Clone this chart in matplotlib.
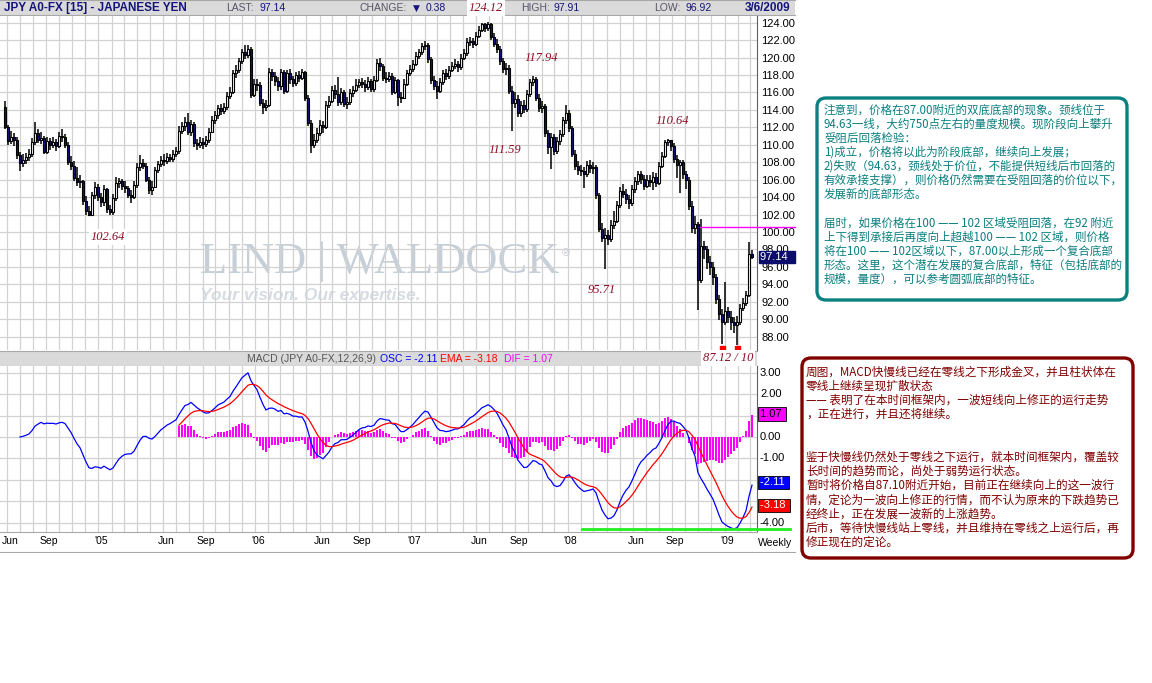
"""Weekly JPY A0-FX candlestick chart with a MACD panel and two Chinese notes."""
import pandas as pd
import matplotlib
matplotlib.use("Agg")
import matplotlib.pyplot as plt
from matplotlib import font_manager
from matplotlib.patches import Rectangle, FancyBboxPatch
from matplotlib.lines import Line2D
from matplotlib.transforms import IdentityTransform, blended_transform_factory

W, H = 1152, 683

# ---- weekly candles (first bar is the week of 28 May 2004) ----
FIRST_WEEK = "2004-05-28"
first_open = 114.3
closes = [
    112.0, 110.4, 110.9, 110.6, 108.8, 107.9, 108.3, 108.6, 108.9,
    110.3, 111.4, 110.6, 110.8, 109.2, 110.4, 110.0, 110.3, 109.9, 111.0,
    110.9, 110.0, 108.0, 107.6, 106.2, 105.7, 105.8, 103.5, 102.4, 102.0,
    104.2, 105.2, 104.0, 103.4, 104.9, 102.6, 102.3, 103.9, 105.6, 105.8,
    105.3, 105.0, 104.3, 104.0, 105.4, 107.4, 107.9, 107.6, 106.0, 104.8,
    105.2, 107.1, 107.8, 108.3, 108.1, 108.6, 108.4, 108.9, 109.3, 111.6,
    112.1, 112.6, 111.5, 112.4, 110.2, 110.0, 110.3, 110.1, 110.5, 111.5,
    112.8, 113.4, 114.2, 113.9, 114.3, 115.6, 116.0, 118.2, 118.6, 119.6,
    120.6, 120.3, 121.0, 115.7, 117.0, 116.9, 114.8, 114.3, 114.6, 118.3,
    117.9, 117.3, 116.7, 118.4, 116.2, 118.2, 117.5, 117.1, 118.0, 117.7,
    118.3, 115.4, 112.5, 110.0, 110.6, 111.4, 112.3, 112.0, 114.6, 115.0,
    116.3, 115.8, 114.9, 116.0, 114.7, 114.9, 115.9, 116.3, 116.9, 117.2,
    117.0, 116.6, 117.3, 116.4, 117.4, 119.4, 119.0, 117.7, 117.6, 117.9,
    116.1, 117.4, 115.5, 115.4, 117.0, 118.2, 118.7, 119.3, 120.2, 120.6,
    121.3, 121.5, 119.8, 117.4, 116.8, 116.2, 117.2, 118.2, 117.9, 118.6,
    119.0, 119.3, 118.9, 120.0, 120.5, 121.8, 121.9, 121.6, 122.5, 123.2,
    123.8, 123.4, 123.9, 122.4, 121.6, 121.0, 119.6, 118.7, 118.8, 116.2,
    114.8, 115.3, 113.6, 114.6, 114.1, 115.8, 117.2, 117.6, 115.4, 114.2,
    114.5, 111.3, 109.8, 110.9, 109.3, 110.4, 111.2, 112.8, 113.7, 111.9,
    109.0, 107.6, 107.1, 107.0, 106.6, 107.7, 107.3, 107.4, 104.2, 100.4,
    99.3, 99.6, 99.2, 100.8, 101.3, 103.1, 104.7, 104.4, 103.8, 103.3,
    104.9, 105.8, 106.6, 106.1, 105.3, 106.0, 105.7, 106.3, 105.6, 107.6,
    108.7, 110.3, 110.5, 109.9, 108.4, 107.7, 108.0, 106.6, 106.0, 103.0,
    100.5, 100.9, 94.5, 98.4, 98.0, 96.6, 96.0, 94.8, 92.3, 90.6,
    89.7, 90.9, 90.3, 89.7, 89.3, 89.7, 91.3, 91.9, 92.8, 97.52, 97.14,
]
highs = [
    115.0, 112.3, 111.6, 111.3, 110.9, 109.2, 108.9, 109.1, 109.5,
    110.8, 112.6, 111.8, 111.5, 111.0, 110.9, 110.8, 110.9, 110.7, 111.5,
    111.8, 111.2, 110.3, 108.7, 108.1, 107.4, 106.5, 106.0, 104.1, 103.0,
    104.6, 105.7, 105.5, 104.5, 105.4, 105.1, 103.1, 104.4, 106.3, 106.2,
    106.1, 105.8, 105.3, 104.8, 105.8, 107.9, 108.8, 108.4, 107.9, 106.3,
    105.8, 107.5, 108.2, 108.7, 108.9, 109.1, 109.0, 109.4, 109.8, 112.2,
    112.6, 113.2, 113.7, 112.9, 112.6, 110.7, 110.9, 110.8, 111.0, 111.9,
    113.3, 113.9, 114.6, 114.7, 114.8, 116.0, 116.6, 118.6, 119.1, 120.0,
    121.0, 121.4, 121.4, 121.2, 117.5, 117.6, 117.2, 115.2, 115.1, 118.8,
    118.7, 118.3, 117.8, 118.7, 118.6, 118.6, 118.7, 117.9, 118.4, 118.5,
    118.7, 118.5, 115.7, 112.8, 111.2, 111.9, 112.9, 112.7, 115.0, 115.6,
    116.8, 116.9, 117.8, 116.5, 116.3, 115.5, 116.4, 116.8, 117.5, 117.6,
    117.7, 117.4, 117.8, 117.6, 117.9, 119.8, 119.9, 119.3, 118.4, 118.4,
    118.2, 117.8, 117.6, 116.1, 117.5, 118.6, 119.2, 119.7, 120.6, 121.0,
    121.7, 121.9, 121.7, 120.1, 117.9, 117.3, 117.7, 118.6, 118.7, 119.0,
    119.5, 119.8, 119.6, 120.4, 121.0, 122.2, 122.4, 122.3, 122.9, 123.6,
    124.0, 124.0, 124.12, 124.0, 122.8, 122.1, 121.3, 120.0, 119.4, 119.1,
    116.7, 116.0, 115.7, 115.0, 115.1, 116.3, 117.6, 117.94, 117.8, 115.8,
    115.0, 114.7, 111.7, 111.4, 111.2, 110.9, 111.7, 113.2, 114.6, 114.0,
    112.2, 109.4, 108.2, 107.7, 107.5, 108.2, 108.3, 108.0, 107.7, 104.5,
    101.0, 100.5, 100.2, 101.4, 102.4, 103.6, 105.2, 105.5, 104.9, 104.3,
    105.4, 106.3, 107.0, 107.0, 106.5, 106.5, 106.5, 106.9, 106.8, 108.0,
    109.2, 110.5, 110.64, 110.6, 110.2, 108.8, 108.3, 108.3, 107.0, 106.3,
    103.5, 101.8, 101.2, 101.5, 99.0, 98.4, 97.2, 96.6, 95.2, 92.8,
    91.2, 94.3, 91.4, 90.9, 90.3, 90.4, 91.8, 92.4, 93.2, 98.8, 97.91,
]
lows = [
    111.8, 110.0, 110.1, 109.9, 108.4, 107.0, 107.4, 107.8, 108.1,
    108.6, 110.0, 110.2, 110.1, 108.9, 108.9, 109.4, 109.6, 109.3, 109.6,
    110.3, 109.6, 107.7, 107.1, 105.9, 105.3, 105.0, 103.1, 102.0, 101.85,
    101.9, 103.8, 103.6, 102.9, 103.0, 102.2, 101.9, 102.0, 103.6, 105.1,
    104.8, 104.5, 103.9, 103.3, 103.8, 105.1, 107.0, 107.2, 105.7, 104.4,
    104.2, 105.0, 106.8, 107.4, 107.6, 107.8, 108.0, 108.0, 108.6, 109.0,
    111.2, 111.6, 111.1, 111.0, 109.8, 109.4, 109.6, 109.5, 109.8, 110.2,
    111.3, 112.4, 113.0, 113.4, 113.5, 114.0, 115.3, 115.8, 117.7, 118.2,
    119.3, 119.8, 119.9, 115.4, 115.5, 116.2, 114.4, 113.5, 113.9, 114.3,
    117.3, 116.8, 116.2, 116.3, 115.8, 115.9, 117.0, 116.6, 116.8, 117.2,
    117.4, 115.0, 112.2, 109.1, 109.6, 110.2, 111.0, 111.4, 111.8, 114.2,
    114.8, 115.3, 114.5, 114.6, 114.3, 114.1, 114.6, 115.5, 116.0, 116.5,
    116.5, 116.1, 116.3, 116.0, 116.1, 117.2, 118.5, 117.3, 117.1, 117.2,
    115.7, 115.8, 114.5, 114.8, 115.2, 116.7, 117.9, 118.4, 119.0, 119.8,
    120.3, 120.9, 119.4, 117.0, 116.3, 115.3, 115.9, 116.9, 117.4, 117.6,
    118.3, 118.7, 118.4, 118.6, 119.7, 120.2, 121.3, 121.1, 121.3, 122.2,
    122.9, 122.9, 123.1, 122.0, 121.2, 120.5, 119.2, 118.2, 118.0, 115.8,
    111.6, 114.2, 113.2, 113.2, 113.6, 113.8, 115.5, 116.8, 115.0, 113.8,
    113.7, 110.9, 109.0, 107.2, 108.8, 109.0, 110.0, 110.9, 112.4, 111.5,
    108.6, 107.1, 106.5, 106.4, 105.0, 106.3, 106.8, 106.6, 103.8, 100.0,
    98.8, 95.71, 98.5, 98.9, 100.3, 101.0, 102.8, 103.9, 103.2, 102.6,
    103.0, 104.5, 105.4, 105.5, 104.8, 105.0, 105.2, 104.8, 105.2, 105.4,
    107.3, 108.5, 109.9, 109.3, 107.9, 106.2, 104.5, 106.1, 104.9, 102.5,
    99.9, 99.8, 91.0, 94.2, 96.9, 95.8, 95.1, 93.9, 91.7, 89.9,
    87.12, 89.3, 89.6, 88.8, 88.4, 87.10, 89.3, 90.9, 91.5, 92.6, 96.92,
]

# values printed in the header, the MACD title and the axis boxes
last_price, change, day_high, day_low = 97.14, 0.38, 97.91, 96.92
osc_last, ema_last, dif_last = -2.11, -3.18, 1.07
price_ticks = list(range(88, 125, 2))
macd_grid = list(range(-4, 4))
macd_labels = [3.0, 2.0, 0.0, -1.0, -4.0]
swing_text = ["124.12", "117.94", "111.59", "110.64", "102.64", "95.71", "87.12 / 10"]
lows_marked = [239, 244]          # bars flagged with red squares
neckline = 100.6                  # magenta line drawn by the author
macd_floor = -4.28                # green line drawn by the author

teal_note = [
    "注意到，价格在87.00附近的双底底部的现象。颈线位于",
    "94.63一线，大约750点左右的量度规模。现阶段向上攀升",
    "受阻后回落检验：",
    "1)成立，价格将以此为阶段底部，继续向上发展；",
    "2)失败（94.63，颈线处于价位，不能提供短线后市回落的",
    "有效承接支撑），则价格仍然需要在受阻回落的价位以下，",
    "发展新的底部形态。",
    "",
    "届时，如果价格在100 —— 102 区域受阻回落，在92 附近",
    "上下得到承接后再度向上超越100 —— 102 区域，则价格",
    "将在100 —— 102区域以下，87.00以上形成一个复合底部",
    "形态。这里，这个潜在发展的复合底部，特征（包括底部的",
    "规模，量度），可以参考圆弧底部的特征。",
]
red_note = [
    "周图，MACD快慢线已经在零线之下形成金叉，并且柱状体在",
    "零线上继续呈现扩散状态",
    "—— 表明了在本时间框架内，一波短线向上修正的运行走势",
    "，正在进行，并且还将继续。",
    "",
    "",
    "鉴于快慢线仍然处于零线之下运行，就本时间框架内，覆盖较",
    "长时间的趋势而论，尚处于弱势运行状态。",
    "暂时将价格自87.10附近开始，目前正在继续向上的这一波行",
    "情，定论为一波向上修正的行情，而不认为原来的下跌趋势已",
    "经终止，正在发展一波新的上涨趋势。",
    "后市，等待快慢线站上零线，并且维持在零线之上运行后，再",
    "修正现在的定论。",
]

NAVY = "#14147a"
GRID = "#d2d2d2"
CJK = ["Noto Sans CJK SC", "DejaVu Sans"]
SANS = ["Liberation Sans", "DejaVu Sans"]
installed = {f.name for f in font_manager.fontManager.ttflist}
if "Liberation Sans Narrow" in installed:
    NARROW, NARROW_SIZE = ["Liberation Sans Narrow", "DejaVu Sans"], 10
else:
    NARROW, NARROW_SIZE = SANS, 8.5


def rect(x0, y0, x1, y1):
    """Figure fraction box from pixel corners (y measured from the top)."""
    return [x0 / W, 1 - y1 / H, (x1 - x0) / W, (y1 - y0) / H]


def ftext(fig, x, y, s, **kw):
    """Text placed in pixels from the top-left corner."""
    kw.setdefault("va", "center")
    return fig.text(x / W, 1 - y / H, s, **kw)


def band(fig, x0, y0, x1, y1):
    """Grey title band with thin borders."""
    fig.add_artist(Rectangle((x0 / W, 1 - y1 / H), (x1 - x0) / W, (y1 - y0) / H,
                             transform=fig.transFigure, fc="#dadada", ec="none", zorder=-2))
    for y in (y0, y1):
        fig.add_artist(Line2D([x0 / W, x1 / W], [1 - y / H] * 2, transform=fig.transFigure,
                              color="#a8a8a8", lw=0.8, zorder=-1))


def month_axis(ax, dates):
    """Monthly vertical grid plus Jun / Sep / year labels."""
    months = pd.date_range("2004-06-01", "2009-03-01", freq="MS")
    pos = (months - dates[0]).days / 7
    ax.set_xticks(pos, minor=True)
    keep = [(p, m) for p, m in zip(pos, months) if m.month in (1, 6, 9)]
    labels = [f"'{m:%y}" if m.month == 1 else f"{m:%b}" for _, m in keep]
    ax.set_xticks([p + 1 for p, _ in keep])
    ax.set_xticklabels(labels, fontsize=7.5, family=NARROW)
    ax.tick_params(axis="x", which="both", length=0, pad=3)
    ax.grid(True, which="minor", axis="x", color=GRID, lw=0.9)


def plot_candles(ax, x, opens):
    """Hollow up candles, navy down candles."""
    ax.vlines(x, lows, highs, color="black", lw=1.1, zorder=2)
    bottoms = [min(o, c) for o, c in zip(opens, closes)]
    heights = [max(abs(c - o), 0.08) for o, c in zip(opens, closes)]
    colors = ["white" if c >= o else NAVY for o, c in zip(opens, closes)]
    ax.bar(x, heights, bottom=bottoms, width=0.72, color=colors,
           edgecolor="black", linewidth=0.8, zorder=3)


def main():
    n = len(closes)
    assert len(highs) == n and len(lows) == n
    x = list(range(n))
    dates = pd.date_range(FIRST_WEEK, periods=n, freq="7D")
    opens = [first_open] + closes[:-1]
    xlim = (-5 / 3, 752 / 3)

    fig = plt.figure(figsize=(W / 100, H / 100), dpi=100)
    fig.patch.set_facecolor("white")

    # ---------------- price panel ----------------
    ax = fig.add_axes(rect(0, 16, 757, 350))
    ax.set_xlim(*xlim)
    ax.set_ylim(86.47, 124.77)
    ax.set_axisbelow(True)
    plot_candles(ax, x, opens)

    ax.yaxis.tick_right()
    ax.set_yticks(price_ticks)
    ax.set_yticklabels([f"{v:.2f}" for v in price_ticks], fontsize=8, family=SANS)
    ax.tick_params(axis="y", length=0, pad=3)
    ax.grid(True, which="major", axis="y", color=GRID, lw=0.9)
    month_axis(ax, dates)
    ax.tick_params(axis="x", which="both", labelbottom=False)
    for side in ("left", "top", "bottom"):
        ax.spines[side].set_visible(False)
    ax.spines["right"].set_color("#606060")

    # watermark
    ax.text(200 / 757, (350 - 273) / 334, "LIND | WALDOCK", transform=ax.transAxes,
            fontsize=32, family=["Liberation Serif", "DejaVu Serif"], color="#c6cfd8",
            va="baseline", zorder=0.3)
    ax.text(562 / 757, (350 - 256) / 334, "®", transform=ax.transAxes, fontsize=8,
            family=SANS, color="#c6cfd8", zorder=0.3)
    ax.text(200 / 757, (350 - 300) / 334, "Your vision. Our expertise.", transform=ax.transAxes,
            fontsize=12.5, family=SANS, style="italic", fontweight="bold", color="#d6dce2",
            va="baseline", zorder=0.3)

    # swing labels
    spots = [(160.3, 125.69), (178.7, 119.95), (166.7, 109.41), (222.3, 112.73),
             (34.3, 99.43), (199.0, 93.35), (241.0, 85.56)]
    for s, (bx, by) in zip(swing_text, spots):
        boxed = s in ("124.12", "102.64", "87.12 / 10")
        ax.text(bx, by, s, ha="center", va="center", fontsize=9, style="italic",
                family=["Liberation Serif", "DejaVu Serif"], color="#8a0c22", zorder=6,
                clip_on=False,
                bbox=dict(fc="white", ec="none", pad=1.5) if boxed else None)

    ax.plot([231.7, 263.3], [neckline, neckline], color="#ff00ff", lw=1, clip_on=False, zorder=4)
    ax.plot(lows_marked, [86.75] * len(lows_marked), "s", color="#ff0000", ms=3.6,
            clip_on=False, zorder=5)

    ytrans = blended_transform_factory(ax.transAxes, ax.transData)
    ax.text(1 + 3 / 757, last_price, f"{last_price:.2f}  ", transform=ytrans, ha="left",
            va="center", fontsize=8, family=SANS, color="white", clip_on=False, zorder=6,
            bbox=dict(boxstyle="square,pad=0.1", fc="#0c0c6c", ec="#0c0c6c"))

    # ---------------- MACD panel ----------------
    axm = fig.add_axes(rect(0, 366, 757, 532))
    axm.set_xlim(*xlim)
    axm.set_ylim(-4.43, 3.31)
    axm.set_axisbelow(True)

    price = pd.Series(closes, index=x).iloc[5:]
    osc = price.ewm(span=12, adjust=False).mean() - price.ewm(span=26, adjust=False).mean()
    ema = osc.ewm(span=9, adjust=False).mean()
    dif = (osc - ema).loc[58:]
    axm.bar(dif.index, dif.values, width=0.62, color="#ff00ff", lw=0, zorder=2)
    axm.plot(osc.index, osc.values, color="#0000ff", lw=0.9, zorder=3)
    axm.plot(ema.loc[58:].index, ema.loc[58:].values, color="#ff0000", lw=0.9, zorder=3)
    axm.plot([192.2, 261.7], [macd_floor, macd_floor], color="#22ee22", lw=2,
             clip_on=False, zorder=4)

    axm.set_yticks(macd_grid)
    axm.tick_params(axis="y", length=0, labelleft=False, labelright=False)
    axm.grid(True, which="major", axis="y", color=GRID, lw=0.9)
    month_axis(axm, dates)
    for side in ("left", "top"):
        axm.spines[side].set_visible(False)
    axm.spines["right"].set_color("#606060")
    axm.spines["bottom"].set_color("#a8a8a8")

    mtrans = blended_transform_factory(axm.transAxes, axm.transData)
    for v in macd_labels:
        axm.text(1 + 3 / 757, v, f"{v:.2f}", transform=mtrans, ha="left", va="center",
                 fontsize=8, family=SANS, clip_on=False)
    for v, fc, tc in [(dif_last, "#ff00ff", "black"), (osc_last, "#0000ff", "white"),
                      (ema_last, "#ff0000", "white")]:
        axm.text(1 + 3 / 757, v, f"{v:.2f} ", transform=mtrans, ha="left", va="center",
                 fontsize=8, family=SANS, color=tc, clip_on=False, zorder=6,
                 bbox=dict(boxstyle="square,pad=0.15", fc=fc, ec="black", lw=0.6))
    ftext(fig, 758, 543, "Weekly", fontsize=7.5, family=NARROW)
    fig.add_artist(Line2D([0, 795 / W], [1 - 552 / H] * 2, transform=fig.transFigure,
                          color="#a8a8a8", lw=0.8))

    # ---------------- header and MACD title bands ----------------
    band(fig, 0, 0, 795, 15)
    ftext(fig, 4, 8, "JPY A0-FX [15] - JAPANESE YEN", fontsize=NARROW_SIZE,
          fontweight="bold", family=NARROW, color=NAVY)
    grey = "#55556a"
    for lx, label, vx, value in [(226, "LAST:", 259, f"{last_price:.2f}"),
                                 (521, "HIGH:", 553, f"{day_high:.2f}"),
                                 (654, "LOW:", 685, f"{day_low:.2f}")]:
        ftext(fig, lx, 8, label, fontsize=7.5, family=SANS, color=grey)
        ftext(fig, vx, 8, value, fontsize=7.5, family=SANS, color=NAVY)
    ftext(fig, 359, 8, "CHANGE:", fontsize=7.5, family=SANS, color=grey)
    ftext(fig, 413, 8, "▼", fontsize=6.5, family=["DejaVu Sans"], color=NAVY)
    ftext(fig, 426, 8, f"{change:.2f}", fontsize=7.5, family=SANS, color=NAVY)
    ftext(fig, 745, 8, "3/6/2009", fontsize=8.5, fontweight="bold", family=SANS, color=NAVY)

    band(fig, 0, 351, 757, 366)
    for tx, s, c in [(247, "MACD (JPY A0-FX,12,26,9)", "#555555"),
                     (380, f"OSC = {osc_last:.2f}", "#0000ff"),
                     (440, f"EMA = {ema_last:.2f}", "#ff0000"),
                     (504, f"DIF = {dif_last:.2f}", "#ff00ff")]:
        ftext(fig, tx, 358.5, s, fontsize=7.5, family=SANS, color=c)

    # ---------------- note boxes ----------------
    for (x0, y0, x1, y1), edge in [((817, 98, 1127, 300), "#0b8080"),
                                   ((802, 358, 1133, 558), "#800000")]:
        fig.add_artist(FancyBboxPatch((x0, H - y1), x1 - x0, y1 - y0,
                                      boxstyle="round,pad=0,rounding_size=9",
                                      transform=IdentityTransform(), fc="white",
                                      ec=edge, lw=2.4))
    for i, line in enumerate(teal_note):
        ftext(fig, 824, 110 + 14.1 * i, line, fontsize=8.3, family=CJK, color="#0b7f7f")
    for i, line in enumerate(red_note):
        ftext(fig, 806, 372 + 14.2 * i, line, fontsize=8.4, family=CJK, color="#800000")

    fig.savefig("out.png", dpi=100)


if __name__ == "__main__":
    main()
